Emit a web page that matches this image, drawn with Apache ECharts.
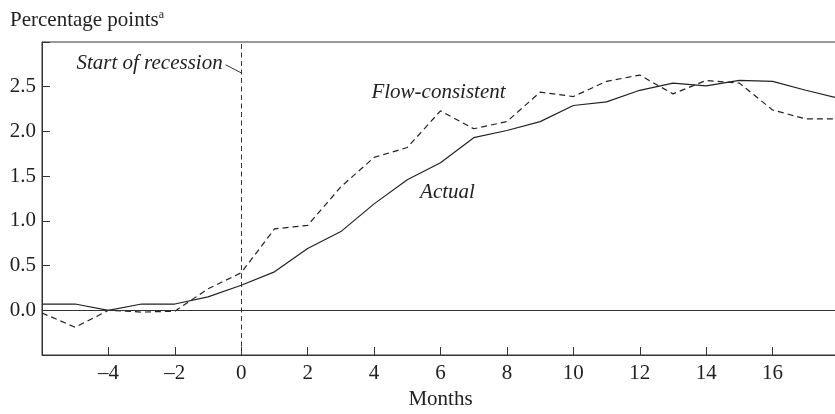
<!DOCTYPE html>
<html>
<head>
<meta charset="utf-8">
<title>Flow-consistent vs actual</title>
<script src="https://cdn.jsdelivr.net/npm/echarts@6/dist/echarts.min.js"></script>
<style>
  html, body { margin: 0; padding: 0; background: #fff; }
  #chart { width: 835px; height: 414px; }
</style>
</head>
<body>
<div id="chart"></div>
<script>
// months relative to start of recession
var months = [-6, -5, -4, -3, -2, -1, 0, 1, 2, 3, 4, 5, 6, 7, 8, 9, 10, 11, 12, 13, 14, 15, 16, 17, 18]
// percentage points
var actual = [0.07, 0.07, 0.0, 0.07, 0.07, 0.15, 0.28, 0.43, 0.69, 0.88, 1.19, 1.46, 1.65, 1.93, 2.01, 2.11, 2.29, 2.33, 2.46, 2.54, 2.51, 2.57, 2.56, 2.46, 2.37]
var flowConsistent = [-0.03, -0.19, 0.0, -0.02, -0.01, 0.24, 0.42, 0.91, 0.95, 1.38, 1.71, 1.82, 2.23, 2.03, 2.11, 2.44, 2.39, 2.56, 2.63, 2.42, 2.57, 2.54, 2.24, 2.14, 2.14]

var font = 'Liberation Serif'
var ink = '#222'
var axisInk = '#333'

function pairs(ys) {
  var out = []
  for (var i = 0; i < months.length; i++) {
    out.push([months[i], ys[i]])
  }
  return out
}

var chart = echarts.init(document.getElementById('chart'))
chart.setOption({
  animation: false,
  textStyle: { fontFamily: font, color: ink },
  title: {
    left: 5,
    top: 4,
    text: '{t|Percentage points}{s|a}',
    textStyle: {
      fontWeight: 'normal',
      rich: {
        t: { fontFamily: font, fontSize: 21, fontWeight: 'normal', color: ink },
        s: { fontFamily: font, fontSize: 12, fontWeight: 'normal', color: ink, verticalAlign: 'top', padding: [0, 0, 10, 0] }
      }
    }
  },
  grid: {
    left: 42,
    top: 42,
    bottom: 59,
    right: -4,
    outerBoundsMode: 'none',
    show: true,
    borderColor: axisInk,
    borderWidth: 1
  },
  xAxis: {
    type: 'value',
    min: -6,
    max: 18,
    interval: 2,
    name: 'Months',
    nameLocation: 'middle',
    nameGap: 34,
    nameTextStyle: { fontFamily: font, fontSize: 21, color: ink },
    axisLine: { onZero: false, lineStyle: { color: axisInk, width: 1 } },
    axisTick: { inside: true, length: 8, lineStyle: { color: axisInk } },
    splitLine: { show: false },
    axisLabel: {
      fontFamily: font,
      fontSize: 21,
      color: ink,
      margin: 8,
      formatter: function (v) {
        if (v === -6 || v === 18) return ''
        return v < 0 ? '\u2013' + Math.abs(v) : String(v)
      }
    }
  },
  yAxis: {
    type: 'value',
    min: -0.5,
    max: 3,
    interval: 0.5,
    axisLine: { show: true, onZero: false, lineStyle: { color: axisInk, width: 1 } },
    axisTick: { show: true, inside: true, length: 8, lineStyle: { color: axisInk } },
    splitLine: { show: false },
    axisLabel: {
      fontFamily: font,
      fontSize: 21,
      color: ink,
      margin: 6,
      formatter: function (v) {
        if (v < 0 || v >= 3) return ''
        return v.toFixed(1)
      }
    }
  },
  series: [
    {
      name: 'Actual',
      type: 'line',
      data: pairs(actual),
      symbol: 'none',
      lineStyle: { color: ink, width: 1.2 },
      markLine: {
        silent: true,
        symbol: 'none',
        label: { show: false },
        data: [
          { yAxis: 0, lineStyle: { color: axisInk, width: 1, type: 'solid' } },
          { xAxis: 0, lineStyle: { color: axisInk, width: 1, type: [5, 3.5] } },
          [
            { coord: [-0.47, 2.745], lineStyle: { color: axisInk, width: 1, type: 'solid' } },
            { coord: [0, 2.655] }
          ]
        ]
      },
      markPoint: {
        silent: true,
        symbolSize: 0,
        label: { show: true, fontFamily: font, fontStyle: 'italic', fontSize: 21, color: ink },
        data: [
          { coord: [6.21, 1.32], value: 'Actual', label: { formatter: 'Actual' } },
          { coord: [-0.56, 2.76], value: 'Start', label: { formatter: 'Start of recession', align: 'right' } }
        ]
      }
    },
    {
      name: 'Flow-consistent',
      type: 'line',
      data: pairs(flowConsistent),
      symbol: 'none',
      lineStyle: { color: ink, width: 1.2, type: [6, 4] },
      markPoint: {
        silent: true,
        symbolSize: 0,
        label: { show: true, fontFamily: font, fontStyle: 'italic', fontSize: 21, color: ink },
        data: [
          { coord: [5.94, 2.43], value: 'Flow', label: { formatter: 'Flow-consistent' } }
        ]
      }
    }
  ]
})
</script>
</body>
</html>
